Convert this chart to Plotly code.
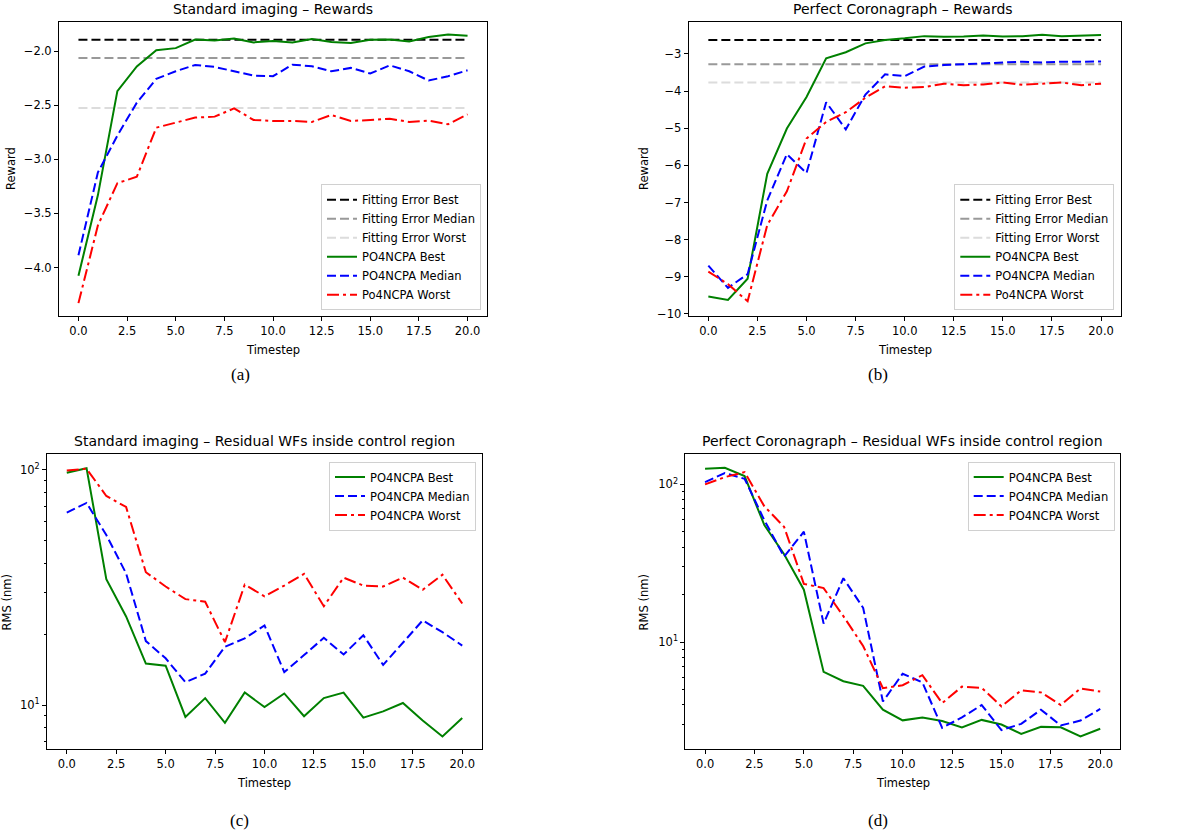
import plotly.graph_objects as go

W, H = 1200, 836

# ---------------- data ----------------
timesteps = list(range(21))

# (a) Standard imaging - Rewards
a_fit_best = -1.893
a_fit_median = -2.061
a_fit_worst = -2.525
a_best = [-4.077, -3.33, -2.368, -2.14, -1.99, -1.97, -1.89, -1.90, -1.88, -1.917, -1.905,
          -1.917, -1.886, -1.914, -1.923, -1.893, -1.89, -1.908, -1.868, -1.843, -1.856]
a_median = [-3.887, -3.12, -2.78, -2.475, -2.255, -2.184, -2.126, -2.144, -2.184, -2.224, -2.23,
            -2.123, -2.138, -2.184, -2.153, -2.205, -2.129, -2.184, -2.27, -2.23, -2.175]
a_worst = [-4.33, -3.61, -3.22, -3.16, -2.706, -2.66, -2.613, -2.604, -2.528, -2.635, -2.644,
           -2.644, -2.653, -2.589, -2.644, -2.635, -2.623, -2.653, -2.641, -2.675, -2.583]

# (b) Perfect Coronagraph - Rewards
b_fit_best = -2.626
b_fit_median = -3.276
b_fit_worst = -3.766
b_best = [-9.53, -9.625, -9.055, -6.23, -5.01, -4.16, -3.116, -2.955, -2.715, -2.626, -2.58,
          -2.52, -2.537, -2.53, -2.50, -2.53, -2.52, -2.48, -2.52, -2.51, -2.49]
b_median = [-8.70, -9.30, -8.93, -6.945, -5.70, -6.21, -4.30, -5.03, -4.095, -3.55, -3.597,
            -3.34, -3.30, -3.27, -3.25, -3.23, -3.21, -3.23, -3.21, -3.20, -3.205]
b_worst = [-8.86, -9.20, -9.66, -7.61, -6.70, -5.28, -4.83, -4.57, -4.18, -3.87, -3.91,
           -3.89, -3.80, -3.84, -3.82, -3.77, -3.83, -3.80, -3.77, -3.84, -3.80]

# (c) Standard imaging - Residual WFs (RMS nm)
c_best = [97.1, 101.6, 34.3, 23.8, 15.0, 14.7, 8.9, 10.7, 8.4, 11.3, 9.8,
          11.2, 8.96, 10.7, 11.3, 8.84, 9.4, 10.2, 8.6, 7.35, 8.8]
c_median = [65.8, 72.3, 52.8, 36.3, 18.7, 15.8, 12.5, 13.6, 17.7, 19.2, 21.8,
            13.8, 16.3, 19.3, 16.4, 19.8, 14.8, 18.4, 22.9, 20.4, 17.9]
c_worst = [99.4, 101.0, 77.4, 69.5, 36.7, 31.9, 28.2, 27.5, 18.5, 32.5, 29.0,
           32.2, 36.1, 26.3, 34.8, 32.2, 31.9, 34.8, 30.9, 35.8, 27.0]

# (d) Perfect Coronagraph - Residual WFs (RMS nm)
d_best = [125.5, 127.3, 112.9, 55.2, 36.1, 21.5, 6.47, 5.65, 5.28, 3.73, 3.19,
          3.33, 3.16, 2.88, 3.21, 3.0, 2.62, 2.9, 2.88, 2.52, 2.82]
d_median = [103.4, 117.9, 108.6, 59.3, 34.8, 50.1, 13.1, 25.4, 16.5, 4.2, 6.3,
            5.55, 2.86, 3.33, 3.99, 2.77, 3.03, 3.73, 2.96, 3.18, 3.77]
d_worst = [100.0, 111.2, 119.6, 72.6, 53.8, 23.4, 22.0, 14.6, 9.45, 5.1, 5.33,
           6.17, 4.1, 5.22, 5.13, 3.91, 4.95, 4.8, 3.99, 5.08, 4.86]

x_ticks = [0, 2.5, 5, 7.5, 10, 12.5, 15, 17.5, 20]
x_tick_text = ["0.0", "2.5", "5.0", "7.5", "10.0", "12.5", "15.0", "17.5", "20.0"]
a_y_ticks = [-4.0, -3.5, -3.0, -2.5, -2.0]
b_y_ticks = [-10, -9, -8, -7, -6, -5, -4, -3]
log_major = [10, 100]
log_major_text = ["10<sup>1</sup>", "10<sup>2</sup>"]
log_minor = [2, 3, 4, 5, 6, 7, 8, 9, 20, 30, 40, 50, 60, 70, 80, 90, 200]

# ---------------- styling ----------------
FONT = "DejaVu Sans"
TICK_SIZE = 11.5
LW = 2
GREEN, BLUE, RED = "#008000", "#0000ff", "#ff0000"
DASH = "9px,4px"
DASHDOT = "12px,4px,3px,4px"


def px_x(p):
    return p / W


def px_y(p):
    return 1 - p / H


fig = go.Figure()

panels = {
    "a": dict(xd=(59, 487), yd=(22, 318)),
    "b": dict(xd=(688.7, 1120.7), yd=(22, 318)),
    "c": dict(xd=(47, 482), yd=(457, 754)),
    "d": dict(xd=(685.3, 1120), yd=(457, 754)),
}
axis_ids = {"a": ("x", "y"), "b": ("x2", "y2"), "c": ("x3", "y3"), "d": ("x4", "y4")}
legend_ids = {"a": "legend", "b": "legend2", "c": "legend3", "d": "legend4"}

span = [timesteps[0], timesteps[-1]]


def add_line(panel, x, y, name, color, dash):
    xa, ya = axis_ids[panel]
    fig.add_trace(go.Scatter(x=x, y=y, mode="lines", name=name,
                             line=dict(color=color, width=LW, dash=dash),
                             xaxis=xa, yaxis=ya, legend=legend_ids[panel],
                             hoverinfo="skip"))


for p, fits, series in [
    ("a", (a_fit_best, a_fit_median, a_fit_worst), (a_best, a_median, a_worst)),
    ("b", (b_fit_best, b_fit_median, b_fit_worst), (b_best, b_median, b_worst)),
]:
    add_line(p, span, [fits[0]] * 2, "Fitting Error Best", "#000000", DASH)
    add_line(p, span, [fits[1]] * 2, "Fitting Error Median", "#999999", DASH)
    add_line(p, span, [fits[2]] * 2, "Fitting Error Worst", "#dcdcdc", DASH)
    add_line(p, timesteps, series[0], "PO4NCPA Best", GREEN, "solid")
    add_line(p, timesteps, series[1], "PO4NCPA Median", BLUE, DASH)
    add_line(p, timesteps, series[2], "Po4NCPA Worst", RED, DASHDOT)

for p, series in [("c", (c_best, c_median, c_worst)), ("d", (d_best, d_median, d_worst))]:
    add_line(p, timesteps, series[0], "PO4NCPA Best", GREEN, "solid")
    add_line(p, timesteps, series[1], "PO4NCPA Median", BLUE, DASH)
    add_line(p, timesteps, series[2], "PO4NCPA Worst", RED, DASHDOT)

common_axis = dict(showline=True, linecolor="black", linewidth=1, mirror=True,
                   ticks="outside", ticklen=4, tickwidth=1, tickcolor="black",
                   showgrid=False, zeroline=False,
                   tickfont=dict(family=FONT, size=TICK_SIZE, color="black"))

layout = dict(width=W, height=H, margin=dict(l=0, r=0, t=0, b=0),
              paper_bgcolor="white", plot_bgcolor="white",
              font=dict(family=FONT, size=TICK_SIZE, color="black"))

y_settings = {
    "a": dict(range=[-4.45, -1.727], tickvals=a_y_ticks, tickformat=".1f"),
    "b": dict(range=[-10.06, -2.136], tickvals=b_y_ticks, tickformat="d"),
    "c": dict(type="log", range=[0.811, 2.066], tickvals=log_major, ticktext=log_major_text,
              minor=dict(tickmode="array", tickvals=log_minor, ticks="outside", ticklen=2.5,
                         tickcolor="black", tickwidth=1, showgrid=False)),
    "d": dict(type="log", range=[0.319, 2.191], tickvals=log_major, ticktext=log_major_text,
              minor=dict(tickmode="array", tickvals=log_minor, ticks="outside", ticklen=2.5,
                         tickcolor="black", tickwidth=1, showgrid=False)),
}

for p, geo in panels.items():
    xa, ya = axis_ids[p]
    xkey = "xaxis" + xa[1:]
    ykey = "yaxis" + ya[1:]
    layout[xkey] = dict(common_axis, domain=[px_x(geo["xd"][0]), px_x(geo["xd"][1])],
                        range=[-1, 21], tickvals=x_ticks, ticktext=x_tick_text,
                        anchor=ya)
    layout[ykey] = dict(common_axis, domain=[px_y(geo["yd"][1]), px_y(geo["yd"][0])],
                        anchor=xa, **y_settings[p])

legend_common = dict(bgcolor="rgba(255,255,255,0.8)", bordercolor="#d0d0d0", borderwidth=1,
                     font=dict(family=FONT, size=TICK_SIZE, color="black"),
                     xanchor="right", yanchor="bottom", xref="paper", yref="paper",
                     itemwidth=30, tracegroupgap=0)
layout["legend"] = dict(legend_common, x=px_x(481), y=px_y(312))
layout["legend2"] = dict(legend_common, x=px_x(1114.3), y=px_y(312))
layout["legend3"] = dict(legend_common, x=px_x(476), y=px_y(527.3), yanchor="top")
layout["legend4"] = dict(legend_common, x=px_x(1114.7), y=px_y(527.3), yanchor="top")
layout["legend3"]["y"] = px_y(464.3)
layout["legend4"]["y"] = px_y(464.3)

fig.update_layout(**layout)

annotations = []


def ann(text, x, y, size, angle=0, family=FONT):
    annotations.append(dict(text=text, x=px_x(x), y=px_y(y), xref="paper", yref="paper",
                            xanchor="center", yanchor="middle", showarrow=False,
                            textangle=angle, font=dict(family=family, size=size, color="black")))


TITLE_SIZE = 14
ann("Standard imaging – Rewards", 273, 9, TITLE_SIZE)
ann("Perfect Coronagraph – Rewards", 903, 9, TITLE_SIZE)
ann("Standard imaging – Residual WFs inside control region", 264.5, 444, TITLE_SIZE)
ann("Perfect Coronagraph – Residual WFs inside control region", 903, 444, TITLE_SIZE)

ann("Timestep", 273, 352, TICK_SIZE)
ann("Timestep", 905, 352, TICK_SIZE)
ann("Timestep", 264, 788, TICK_SIZE)
ann("Timestep", 903, 788, TICK_SIZE)

ann("Reward", 11, 170, TICK_SIZE, -90)
ann("Reward", 644, 170, TICK_SIZE, -90)
ann("RMS (nm)", 7, 606, TICK_SIZE, -90)
ann("RMS (nm)", 644, 606, TICK_SIZE, -90)

CAP = "Liberation Serif"
ann("(a)", 240, 377, 17, family=CAP)
ann("(b)", 878, 377, 17, family=CAP)
ann("(c)", 239, 825, 17, family=CAP)
ann("(d)", 878, 825, 17, family=CAP)

fig.update_layout(annotations=annotations)

fig.write_html("out.html")
